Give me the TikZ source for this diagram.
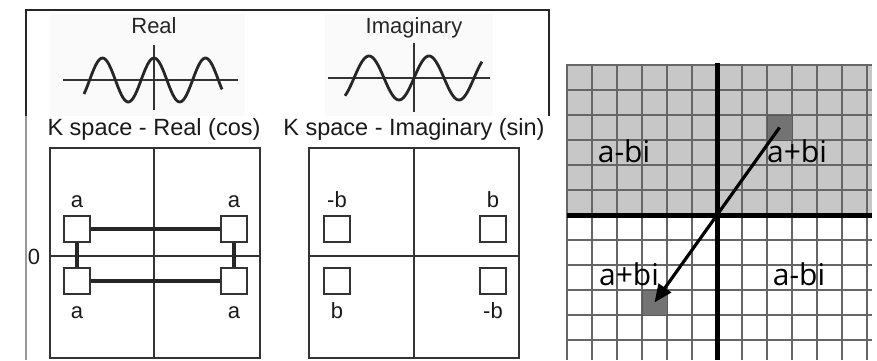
\documentclass[tikz,border=0pt]{standalone}
\usepackage{fontspec}
\setmainfont{Liberation Sans}
\newfontfamily\gridfont{Open Sans}
\usetikzlibrary{arrows.meta}

\begin{document}
\begin{tikzpicture}[x=1pt,y=-1pt,
  frame/.style={black!85, line width=2pt},
  wave/.style={black!85, line width=2.8pt},
  axis/.style={black!80, line width=2.2pt},
  kbox/.style={black!80, line width=2pt},
  title/.style={font=\fontsize{22}{26}\selectfont, anchor=base, black!85},
  ktitle/.style={font=\fontsize{23.5}{28}\selectfont, anchor=base, black!90},
  lbl/.style={font=\fontsize{22}{26}\selectfont, anchor=base, black!90},
  spot/.style={draw=black!80, line width=2pt, minimum size=26pt, inner sep=0pt},
  link/.style={black!85, line width=3.2pt},
  gridline/.style={black!60, line width=1.6pt},
  cell/.style={draw=black!65, line width=1pt, fill=black!55, minimum size=25pt, inner sep=0pt},
  vec/.style={black, line width=3.2pt, -{Triangle[length=18pt,width=15pt]}},
  cplx/.style={font=\gridfont\fontsize{30}{34}\selectfont, anchor=base}]
\useasboundingbox (0,0) rectangle (877,360);

% signals
\fill[black!2] (50,14) rectangle (245,116);
\fill[black!2] (325,14) rectangle (493,116);
\draw[frame] (26,116) -- (26,10) -- (549,10) -- (549,116);
\draw[black!40, line width=1.4pt] (26,116) -- (26,360);
\node[title] (realtitle) at (154,33) {Real};
\node[title] (imagtitle) at (414,33) {Imaginary};
\draw[axis] (63,80) -- (238,80);
\draw[axis] (154,45) -- (154,110);
\draw[wave] plot[domain=84:222, samples=90, smooth] (\x, {80-22*cos(6.99*(\x-154))});
\draw[axis] (328,78) -- (490,78);
\draw[axis] (414,43) -- (414,112);
\draw[wave] plot[domain=345:482, samples=90, smooth] (\x, {78-22*sin(6*(\x-414))});

% k space, real part
\node[ktitle] (krtitle) at (154,135) {K space - Real (cos)};
\draw[kbox] (50,148) rectangle (260,358);
\draw[kbox] (154,148) -- (154,358);
\draw[kbox] (50,256) -- (260,256);
\node[lbl] (zero) at (34,264) {0};
\node[spot] (rtl) at (77,229) {};
\node[spot] (rtr) at (234,229) {};
\node[spot] (rbl) at (77,281) {};
\node[spot] (rbr) at (234,281) {};
\draw[link] (rtl) -- (rtr);
\draw[link] (rbl) -- (rbr);
\draw[link] (rtl) -- (rbl);
\draw[link] (rtr) -- (rbr);
\node[lbl] (atl) at (77,207) {a};
\node[lbl] (atr) at (234,207) {a};
\node[lbl] (abl) at (77,318) {a};
\node[lbl] (abr) at (234,318) {a};

% k space, imaginary part
\node[ktitle] (kititle) at (414,135) {K space - Imaginary (sin)};
\draw[kbox] (309,148) rectangle (519,358);
\draw[kbox] (414,148) -- (414,358);
\draw[kbox] (309,256) -- (519,256);
\node[spot] (itl) at (337,229) {};
\node[spot] (itr) at (493,229) {};
\node[spot] (ibl) at (337,281) {};
\node[spot] (ibr) at (493,281) {};
\node[lbl] (btl) at (337,207) {-b};
\node[lbl] (btr) at (493,207) {b};
\node[lbl] (bbl) at (337,318) {b};
\node[lbl] (bbr) at (493,318) {-b};

% complex plane
\fill[black!22] (567,64) rectangle (872,215);
\foreach \gx in {567,592,...,867}
  \draw[gridline] (\gx,64) -- (\gx,360);
\foreach \gy in {65,90,...,340}
  \draw[gridline] (567,\gy) -- (872,\gy);
\node[cell] (sqa) at (779.5,127.5) {};
\node[cell] (sqb) at (654.5,302.5) {};
\draw[black, line width=5pt] (567,215) -- (872,215);
\draw[black, line width=5pt] (717,63) -- (717,360);
\draw[vec] (sqa.center) -- (sqb.center);
\node[cplx] (c1) at (624,162) {a-bi};
\node[cplx] (c2) at (797,162) {a+bi};
\node[cplx] (c3) at (629,285) {a+bi};
\node[cplx] (c4) at (799,285) {a-bi};
\end{tikzpicture}
\end{document}
